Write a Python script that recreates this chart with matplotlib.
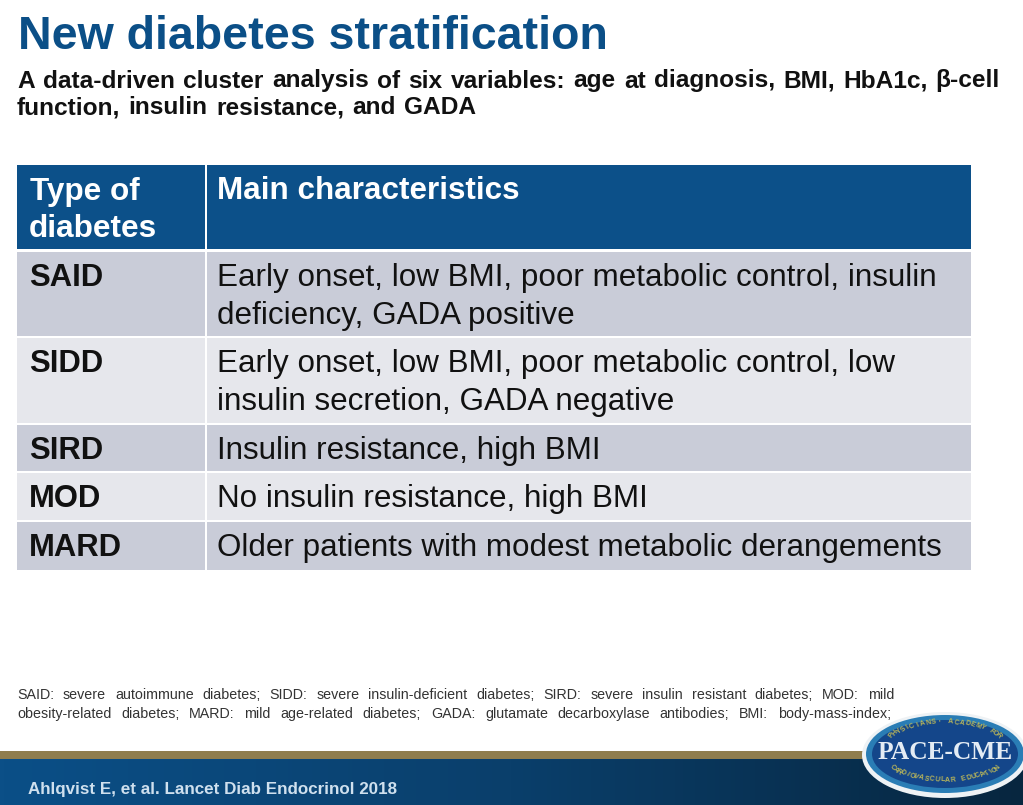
import numpy as np
import matplotlib
matplotlib.use("Agg")
from matplotlib import pyplot as plt
from matplotlib.patches import Rectangle, Ellipse

plt.rcParams['font.family'] = ['Liberation Sans', 'DejaVu Sans']

title = "New diabetes stratification"
subtitle = ["A data-driven cluster analysis of six variables: age at diagnosis, BMI, HbA1c, β-cell",
            "function, insulin resistance, and GADA"]
header = ["Type of\ndiabetes", "Main characteristics"]
types = ["SAID", "SIDD", "SIRD", "MOD", "MARD"]
chars = ["Early onset, low BMI, poor metabolic control, insulin\ndeficiency, GADA positive",
         "Early onset, low BMI, poor metabolic control, low\ninsulin secretion, GADA negative",
         "Insulin resistance, high BMI",
         "No insulin resistance, high BMI",
         "Older patients with modest metabolic derangements"]
footnote = ["SAID: severe autoimmune diabetes; SIDD: severe insulin-deficient diabetes; SIRD: severe insulin resistant diabetes; MOD: mild",
            "obesity-related diabetes; MARD: mild age-related diabetes; GADA: glutamate decarboxylase antibodies; BMI: body-mass-index;"]
citation = "Ahlqvist E, et al. Lancet Diab Endocrinol 2018"

row_tops = [252, 338, 425, 473, 522]
row_bottoms = [336, 423, 471, 520, 570]
row_colors = ["#c9ccd8", "#e6e7ec", "#c9ccd8", "#e6e7ec", "#c9ccd8"]

fig = plt.figure(figsize=(10.23, 8.05), dpi=100)
ax = fig.add_axes([0, 0, 1, 1])
ax.set_xlim(0, 1023)
ax.set_ylim(805, 0)
ax.axis("off")


def px(size):
    return size * 0.72


def justified(words_line, x0, x1, y, size, color, weight="normal"):
    # spread the words out so the line fills x0..x1 like the slide does
    words = words_line.split(" ")
    r = fig.canvas.get_renderer()
    items = [ax.text(0, y, w, fontsize=px(size), color=color, fontweight=weight, va="center") for w in words]
    widths = [t.get_window_extent(r).width for t in items]
    gap = (x1 - x0 - sum(widths)) / (len(words) - 1)
    x = x0
    for t, w in zip(items, widths):
        t.set_x(x)
        x += w + gap


# title block
ax.text(18, 37, title, fontsize=px(46.5), fontweight="bold", color="#0b4f87", va="center")
justified(subtitle[0], 17, 1000, 81, 24.5, "#111111", "bold")
justified(subtitle[1], 17, 476, 108, 24.5, "#111111", "bold")

# table
ax.add_patch(Rectangle((17, 165), 188, 84, color="#0c5089", lw=0))
ax.add_patch(Rectangle((207, 165), 764, 84, color="#0c5089", lw=0))
ax.text(30, 192, header[0].split("\n")[0], fontsize=px(31.5), fontweight="bold", color="white", va="center")
ax.text(29, 229, header[0].split("\n")[1], fontsize=px(31.5), fontweight="bold", color="white", va="center")
ax.text(217, 191, header[1], fontsize=px(31.4), fontweight="bold", color="white", va="center")

for i in range(len(types)):
    top, bottom = row_tops[i], row_bottoms[i]
    ax.add_patch(Rectangle((17, top), 188, bottom - top, color=row_colors[i], lw=0))
    ax.add_patch(Rectangle((207, top), 764, bottom - top, color=row_colors[i], lw=0))
    ax.text(29, top + 26, types[i], fontsize=px(31), fontweight="bold", color="#111111", va="center")
    lines = chars[i].split("\n")
    for j, line in enumerate(lines):
        ax.text(217, top + 26 + j * 37.5, line, fontsize=px(31.4), color="#111111", va="center")

# footnote
justified(footnote[0], 17, 894, 695, 14.3, "#333333")
justified(footnote[1], 17, 891, 714, 14.3, "#333333")

# bottom band
ax.add_patch(Rectangle((0, 751), 1023, 8, color="#8f7d4e", lw=0))
band = np.linspace(0, 1, 256).reshape(1, -1)
cmap = matplotlib.colors.LinearSegmentedColormap.from_list("band", ["#0b4f87", "#0a3f6b", "#07263f"])
ax.imshow(band, extent=(0, 1023, 805, 759), cmap=cmap, aspect="auto", zorder=1)
ax.set_xlim(0, 1023)
ax.set_ylim(805, 0)
ax.text(28, 789, citation, fontsize=px(17), fontweight="bold", color="#cfe0ee", va="center", zorder=2)

# logo
ax.add_patch(Ellipse((945, 755), 166, 86, color="#eef2f5", lw=0, zorder=3))
ax.add_patch(Ellipse((945, 754), 158, 78, color="#2a7db5", lw=0, zorder=3))
ax.add_patch(Ellipse((945, 754), 146, 68, color="#14468a", lw=0, zorder=3))
ax.text(945, 752, "PACE-CME", fontsize=px(25.5), fontweight="bold", family=["Liberation Serif"], color="#e4ecf4", ha="center", va="center", zorder=4)
top_label = "PHYSICIANS' ACADEMY FOR"
bot_label = "CARDIOVASCULAR EDUCATION"
for k, ch in enumerate(top_label):
    a = np.radians(146 - 112 * k / (len(top_label) - 1))
    ax.text(945 + 64 * np.cos(a), 752 - 30 * np.sin(a), ch, fontsize=5, fontweight="bold", color="#b9b65a",
            ha="center", va="center", rotation=np.degrees(a) - 90, zorder=4)
for k, ch in enumerate(bot_label):
    a = np.radians(214 + 112 * k / (len(bot_label) - 1))
    ax.text(945 + 64 * np.cos(a), 752 - 28 * np.sin(a), ch, fontsize=5, fontweight="bold", color="#b9b65a",
            ha="center", va="center", rotation=np.degrees(a) + 90, zorder=4)

fig.savefig("out.png", dpi=100)
